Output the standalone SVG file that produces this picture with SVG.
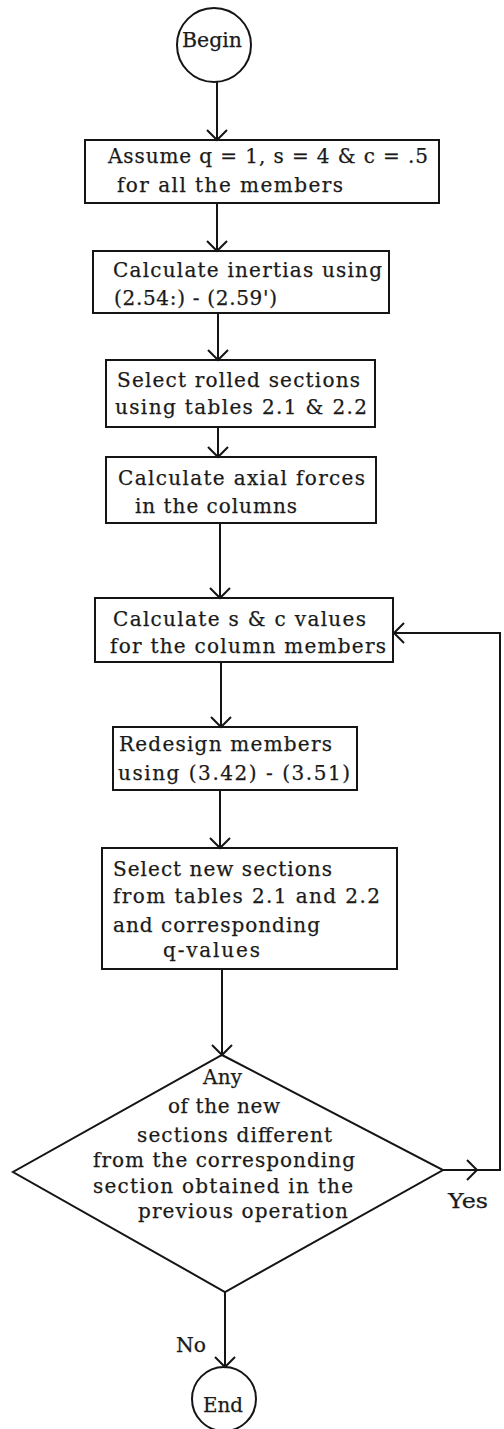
<svg xmlns="http://www.w3.org/2000/svg" width="504" height="1429" viewBox="0 0 504 1429">
<style>
.n{fill:none;stroke:#151515;stroke-width:2}
.c{fill:none;stroke:#151515;stroke-width:2}
text{font-family:"DejaVu Serif","Liberation Serif",serif;font-size:20px;fill:#1a1a1a;stroke:#1a1a1a;stroke-width:0.25}
</style>
<defs>
<marker id="arr" viewBox="0 0 24 24" markerWidth="24" markerHeight="24" refX="12" refY="12" orient="auto" markerUnits="userSpaceOnUse">
<path d="M2,2 L12,12 L2,22" fill="none" stroke="#151515" stroke-width="2"/>
</marker>
</defs>
<rect width="504" height="1429" fill="#ffffff"/>
<g id="connectors">
<path class="c" d="M217,82 L217,140" marker-end="url(#arr)"/>
<path class="c" d="M217,203 L217,251" marker-end="url(#arr)"/>
<path class="c" d="M218,313 L218,360" marker-end="url(#arr)"/>
<path class="c" d="M218,427 L218,457" marker-end="url(#arr)"/>
<path class="c" d="M220,523 L220,598" marker-end="url(#arr)"/>
<path class="c" d="M221,662 L221,727" marker-end="url(#arr)"/>
<path class="c" d="M220,790 L220,848" marker-end="url(#arr)"/>
<path class="c" d="M222,969 L222,1055" marker-end="url(#arr)"/>
<path class="c" d="M225,1292 L225,1367" marker-end="url(#arr)"/>
<path class="c" d="M443,1170 L477,1170" marker-end="url(#arr)"/>
<path class="c" d="M476,1170 L500,1170 L500,633 L394,633" marker-end="url(#arr)"/>
<text x="448" y="1208" textLength="40" lengthAdjust="spacingAndGlyphs">Yes</text>
<text x="176" y="1352" textLength="30" lengthAdjust="spacingAndGlyphs">No</text>
</g>
<g id="begin">
<circle class="n" cx="214" cy="45" r="37"/>
<text x="182" y="47" textLength="60" lengthAdjust="spacingAndGlyphs">Begin</text>
</g>
<g id="assume">
<rect class="n" x="85" y="140" width="354" height="63"/>
<text x="108" y="163" textLength="320" lengthAdjust="spacing">Assume q = 1, s = 4 &amp; c = .5</text>
<text x="117" y="192" textLength="226" lengthAdjust="spacing">for all the members</text>
</g>
<g id="inertias">
<rect class="n" x="93" y="251" width="296" height="62"/>
<text x="113" y="277" textLength="269" lengthAdjust="spacing">Calculate inertias using</text>
<text x="114" y="305" textLength="163" lengthAdjust="spacing">(2.54:) - (2.59')</text>
</g>
<g id="rolled">
<rect class="n" x="106" y="360" width="269" height="67"/>
<text x="117" y="387" textLength="243" lengthAdjust="spacing">Select rolled sections</text>
<text x="115" y="414" textLength="252" lengthAdjust="spacing">using tables 2.1 &amp; 2.2</text>
</g>
<g id="axial">
<rect class="n" x="106" y="457" width="270" height="66"/>
<text x="118" y="485" textLength="247" lengthAdjust="spacing">Calculate axial forces</text>
<text x="135" y="513" textLength="162" lengthAdjust="spacing">in the columns</text>
</g>
<g id="svalues">
<rect class="n" x="95" y="598" width="298" height="64"/>
<text x="113" y="626" textLength="253" lengthAdjust="spacing">Calculate s &amp; c values</text>
<text x="110" y="653" textLength="276" lengthAdjust="spacing">for the column members</text>
</g>
<g id="redesign">
<rect class="n" x="113" y="727" width="244" height="63"/>
<text x="119" y="751" textLength="213" lengthAdjust="spacing">Redesign members</text>
<text x="118" y="780" textLength="232" lengthAdjust="spacing">using (3.42) - (3.51)</text>
</g>
<g id="newsections">
<rect class="n" x="102" y="848" width="295" height="121"/>
<text x="113" y="876" textLength="219" lengthAdjust="spacing">Select new sections</text>
<text x="113" y="903" textLength="267" lengthAdjust="spacing">from tables 2.1 and 2.2</text>
<text x="113" y="932" textLength="207" lengthAdjust="spacing">and corresponding</text>
<text x="163" y="957" textLength="97" lengthAdjust="spacing">q-values</text>
</g>
<g id="decision">
<path class="n" d="M222,1055 L443,1170 L225,1292 L13,1172 Z"/>
<text x="203" y="1084" textLength="39" lengthAdjust="spacing">Any</text>
<text x="168" y="1113" textLength="112" lengthAdjust="spacing">of the new</text>
<text x="137" y="1142" textLength="195" lengthAdjust="spacing">sections different</text>
<text x="93" y="1167" textLength="262" lengthAdjust="spacing">from the corresponding</text>
<text x="93" y="1193" textLength="260" lengthAdjust="spacing">section obtained in the</text>
<text x="138" y="1218" textLength="210" lengthAdjust="spacing">previous operation</text>
</g>
<g id="end">
<circle class="n" cx="224" cy="1399" r="32"/>
<text x="203" y="1412" textLength="40" lengthAdjust="spacingAndGlyphs">End</text>
</g>
</svg>
